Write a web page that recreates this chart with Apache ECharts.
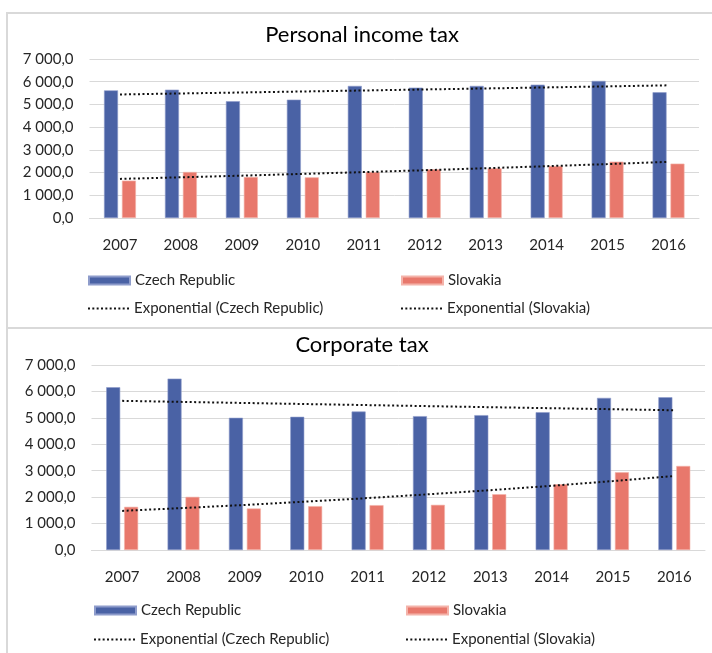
<!DOCTYPE html>
<html><head><meta charset="utf-8">
<script src="https://cdn.jsdelivr.net/npm/echarts@6/dist/echarts.min.js"></script>
<style>html,body{margin:0;padding:0;background:#fff}#c{width:712px;height:653px}</style>
</head><body><div id="c"></div>
<script>
const years = ['2007','2008','2009','2010','2011','2012','2013','2014','2015','2016'];
const pitCzech = [5620,5650,5140,5210,5815,5740,5815,5870,6035,5535];
const pitSlovakia = [1645,2026,1806,1790,2026,2144,2188,2290,2480,2393];
const citCzech = [6160,6485,5002,5040,5240,5065,5102,5215,5756,5781];
const citSlovakia = [1634,2011,1571,1659,1697,1709,2111,2488,2941,3180];
const titles = ['Personal income tax','Corporate tax'];
const seriesNames = ['Czech Republic','Slovakia','Exponential (Czech Republic)','Exponential (Slovakia)'];

// Excel-style exponential trendline: least squares on ln(y)
function expTrend(vals){
  const n = vals.length; let sx=0, sy=0, sxx=0, sxy=0;
  vals.forEach((v,i)=>{const x=i+1, ly=Math.log(v); sx+=x; sy+=ly; sxx+=x*x; sxy+=x*ly;});
  const b=(n*sxy-sx*sy)/(n*sxx-sx*sx), a=(sy-b*sx)/n;
  return vals.map((v,i)=>Math.exp(a+b*(i+1)));
}

const FONT = 'Lato';
const BLUE = '#4A62A5', RED = '#E8786C', GRID = '#D9D9D9', TXT = '#262626';
function fmt(v){ return String(Math.round(v)).replace(/\B(?=(\d{3})+(?!\d))/g,' ') + ',0'; }

// dotted legend icon (row of small squares)
let dotPath = 'path://';
for (let k=0;k<10;k++){ const x=k*4.4; dotPath += 'M'+x.toFixed(1)+',0h2v2h-2z'; }

const grids = [
  {left:89.5, right:13, top:59, height:159},
  {left:91.5, right:7, top:365, height:185}
];
const titleTops = [24, 334];
const legendRows = [[282,310],[612,641]];
const legendCols = [[88,401],[94,406]];
const data = [[pitCzech,pitSlovakia],[citCzech,citSlovakia]];

const option = {
  animation:false,
  textStyle:{fontFamily:FONT},
  graphic:[
    {type:'rect', shape:{x:7,y:13,width:720,height:315}, style:{fill:'none',stroke:GRID,lineWidth:2}, silent:true},
    {type:'rect', shape:{x:7,y:328,width:720,height:400}, style:{fill:'none',stroke:GRID,lineWidth:2}, silent:true}
  ],
  title: titles.map((t,i)=>({text:t, left:362, textAlign:'center', top:titleTops[i], padding:0,
    textStyle:{fontFamily:FONT, fontSize:22, fontWeight:'normal', color:'#000'}})),
  grid: grids,
  xAxis: grids.map((g,i)=>({type:'category', gridIndex:i, data:years,
    axisLine:{lineStyle:{color:GRID}}, axisTick:{show:false},
    axisLabel:{margin:20, fontSize:15, color:TXT, fontFamily:FONT}})),
  yAxis: grids.map((g,i)=>({type:'value', gridIndex:i, min:0, max:7000, interval:1000,
    axisLine:{show:false}, axisTick:{show:false},
    splitLine:{lineStyle:{color:GRID, width:1}},
    axisLabel:{margin:16, fontSize:15, color:TXT, fontFamily:FONT, formatter:fmt}})),
  legend: [],
  series: []
};

[0,1].forEach(gi=>{
  const [cz, sk] = data[gi];
  option.series.push(
    {name:seriesNames[0], type:'bar', xAxisIndex:gi, yAxisIndex:gi, data:cz, barWidth:14, barGap:'28%',
      itemStyle:{color:BLUE, borderColor:'#8E9CCB', borderWidth:0.6}},
    {name:seriesNames[1], type:'bar', xAxisIndex:gi, yAxisIndex:gi, data:sk, barWidth:14, barGap:'28%',
      itemStyle:{color:RED, borderColor:'#F4B3AA', borderWidth:0.6}},
    {name:seriesNames[2], type:'line', xAxisIndex:gi, yAxisIndex:gi, data:expTrend(cz), symbol:'none', z:5,
      lineStyle:{color:'#111', width:2, type:[2,2.5]}, itemStyle:{color:'#111'}},
    {name:seriesNames[3], type:'line', xAxisIndex:gi, yAxisIndex:gi, data:expTrend(sk), symbol:'none', z:5,
      lineStyle:{color:'#111', width:2, type:[2,2.5]}, itemStyle:{color:'#111'}}
  );
  const pos = [[0,0],[1,0],[0,1],[1,1]]; // [col,row]
  seriesNames.forEach((nm,k)=>{
    const [c,r] = pos[k];
    const isLine = k>=2;
    option.legend.push({
      data:[isLine ? {name:nm, icon:dotPath, itemStyle:{color:'#111'}} : {name:nm, icon:'rect'}],
      left:legendCols[gi][c], top:legendRows[gi][r]-9, padding:0,
      itemWidth:41, itemHeight: isLine ? 2 : 8, itemGap:0, symbolKeepAspect:false,
      textStyle:{fontFamily:FONT, fontSize:15, color:TXT, padding:[0,0,0,0]},
      selectedMode:false
    });
  });
});

const chart = echarts.init(document.getElementById('c'));
chart.setOption(option);
</script>
</body></html>
